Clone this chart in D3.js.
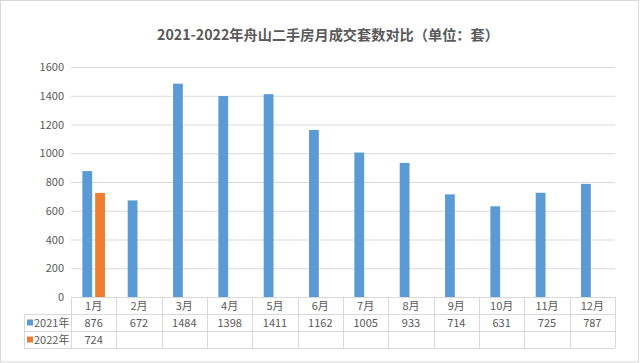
<!DOCTYPE html>
<html>
<head>
<meta charset="utf-8">
<script src="https://cdn.jsdelivr.net/npm/d3@7"></script>
<style>
  body { margin: 0; background: #fff; }
  text { font-family: "Noto Sans CJK SC", "Open Sans", sans-serif; }
</style>
</head>
<body>
<div id="chart"></div>
<script>
/* -----------------    DATA     ------------------ */
const months = ['1月', '2月', '3月', '4月', '5月', '6月', '7月', '8月', '9月', '10月', '11月', '12月'];
const seriesNames = ['2021年', '2022年'];
const values2021 = [876, 672, 1484, 1398, 1411, 1162, 1005, 933, 714, 631, 725, 787];
const values2022 = [724];
const yTicks = [0, 200, 400, 600, 800, 1000, 1200, 1400, 1600];

/* -----------------    SETTINGS     ------------------ */
const width = 640, height = 363;
const plot = { left: 71, right: 615, top: 67, bottom: 297 };
const colors = ['#5b9bd5', '#ed7d31'];
const textColor = '#595959';
const gridColor = '#d9d9d9';

const svg = d3.select('#chart')
  .append('svg')
  .attr('width', width)
  .attr('height', height);

// outer frame
svg.append('rect')
  .attr('x', 0.5).attr('y', 0.5)
  .attr('width', width - 2).attr('height', height - 1.5)
  .attr('fill', '#fff')
  .attr('stroke', '#d9d9d9');

// title
svg.append('text')
  .attr('x', 328).attr('y', 40)
  .attr('text-anchor', 'middle')
  .attr('font-size', 14.2)
  .attr('font-weight', 'bold')
  .attr('fill', textColor)
  .text('2021-2022年舟山二手房月成交套数对比（单位：套）');

// Scales
const x = d3.scaleBand().domain(months).range([plot.left, plot.right]);
const y = d3.scaleLinear().domain([0, 1600]).range([plot.bottom, plot.top]);

// gridlines + y axis
const yAxis = d3.axisLeft(y)
  .tickValues(yTicks)
  .tickFormat(d3.format('d'))
  .tickSize(plot.right - plot.left)
  .tickPadding(7);
const gy = svg.append('g')
  .attr('transform', `translate(${plot.right}, 0)`)
  .call(yAxis);
gy.select('.domain').remove();
gy.selectAll('.tick line').attr('stroke', gridColor);
gy.selectAll('.tick text')
  .attr('fill', textColor)
  .attr('font-size', 11)
  .attr('font-family', '"Open Sans", sans-serif');

// bars
const barW = 9.8, gap = 3;
const series = [values2021, values2022];
series.forEach((vals, si) => {
  svg.append('g')
    .selectAll('rect')
    .data(vals)
    .enter()
    .append('rect')
    .attr('x', (d, i) => x(months[i]) + x.bandwidth() / 2 - barW - gap / 2 + si * (barW + gap))
    .attr('y', d => y(d))
    .attr('width', barW)
    .attr('height', d => y(0) - y(d))
    .attr('fill', colors[si]);
});

// data table
const rowH = 17;
const tableLeft = 24;
const lines = svg.append('g').attr('stroke', gridColor).attr('fill', 'none');
// horizontal lines
lines.append('line').attr('x1', plot.left).attr('x2', plot.right).attr('y1', plot.bottom + 0.5).attr('y2', plot.bottom + 0.5);
[1, 2, 3].forEach(r => {
  lines.append('line')
    .attr('x1', tableLeft).attr('x2', plot.right)
    .attr('y1', plot.bottom + r * rowH + 0.5).attr('y2', plot.bottom + r * rowH + 0.5);
});
// vertical lines
months.forEach(m => {
  lines.append('line')
    .attr('x1', Math.round(x(m)) + 0.5).attr('x2', Math.round(x(m)) + 0.5)
    .attr('y1', plot.bottom).attr('y2', plot.bottom + 3 * rowH);
});
lines.append('line')
  .attr('x1', plot.right + 0.5).attr('x2', plot.right + 0.5)
  .attr('y1', plot.bottom).attr('y2', plot.bottom + 3 * rowH);
lines.append('line')
  .attr('x1', tableLeft + 0.5).attr('x2', tableLeft + 0.5)
  .attr('y1', plot.bottom + rowH).attr('y2', plot.bottom + 3 * rowH);

const cellText = svg.append('g')
  .attr('font-size', 11)
  .attr('fill', textColor)
  .attr('text-anchor', 'middle');

// month header
cellText.selectAll('.m')
  .data(months)
  .enter()
  .append('text')
  .attr('x', d => x(d) + x.bandwidth() / 2)
  .attr('y', plot.bottom + rowH / 2 + 4)
  .text(d => d);

// series rows
series.forEach((vals, si) => {
  const rowY = plot.bottom + (si + 1) * rowH + rowH / 2 + 4;
  cellText.append('g')
    .selectAll('text')
    .data(vals)
    .enter()
    .append('text')
    .attr('x', (d, i) => x(months[i]) + x.bandwidth() / 2)
    .attr('y', rowY)
    .text(d => d);

  svg.append('rect')
    .attr('x', 27).attr('y', rowY - 7)
    .attr('width', 6).attr('height', 6)
    .attr('fill', colors[si]);
  svg.append('text')
    .attr('x', 34).attr('y', rowY)
    .attr('font-size', 11)
    .attr('fill', textColor)
    .text(seriesNames[si]);
});
</script>
</body>
</html>
